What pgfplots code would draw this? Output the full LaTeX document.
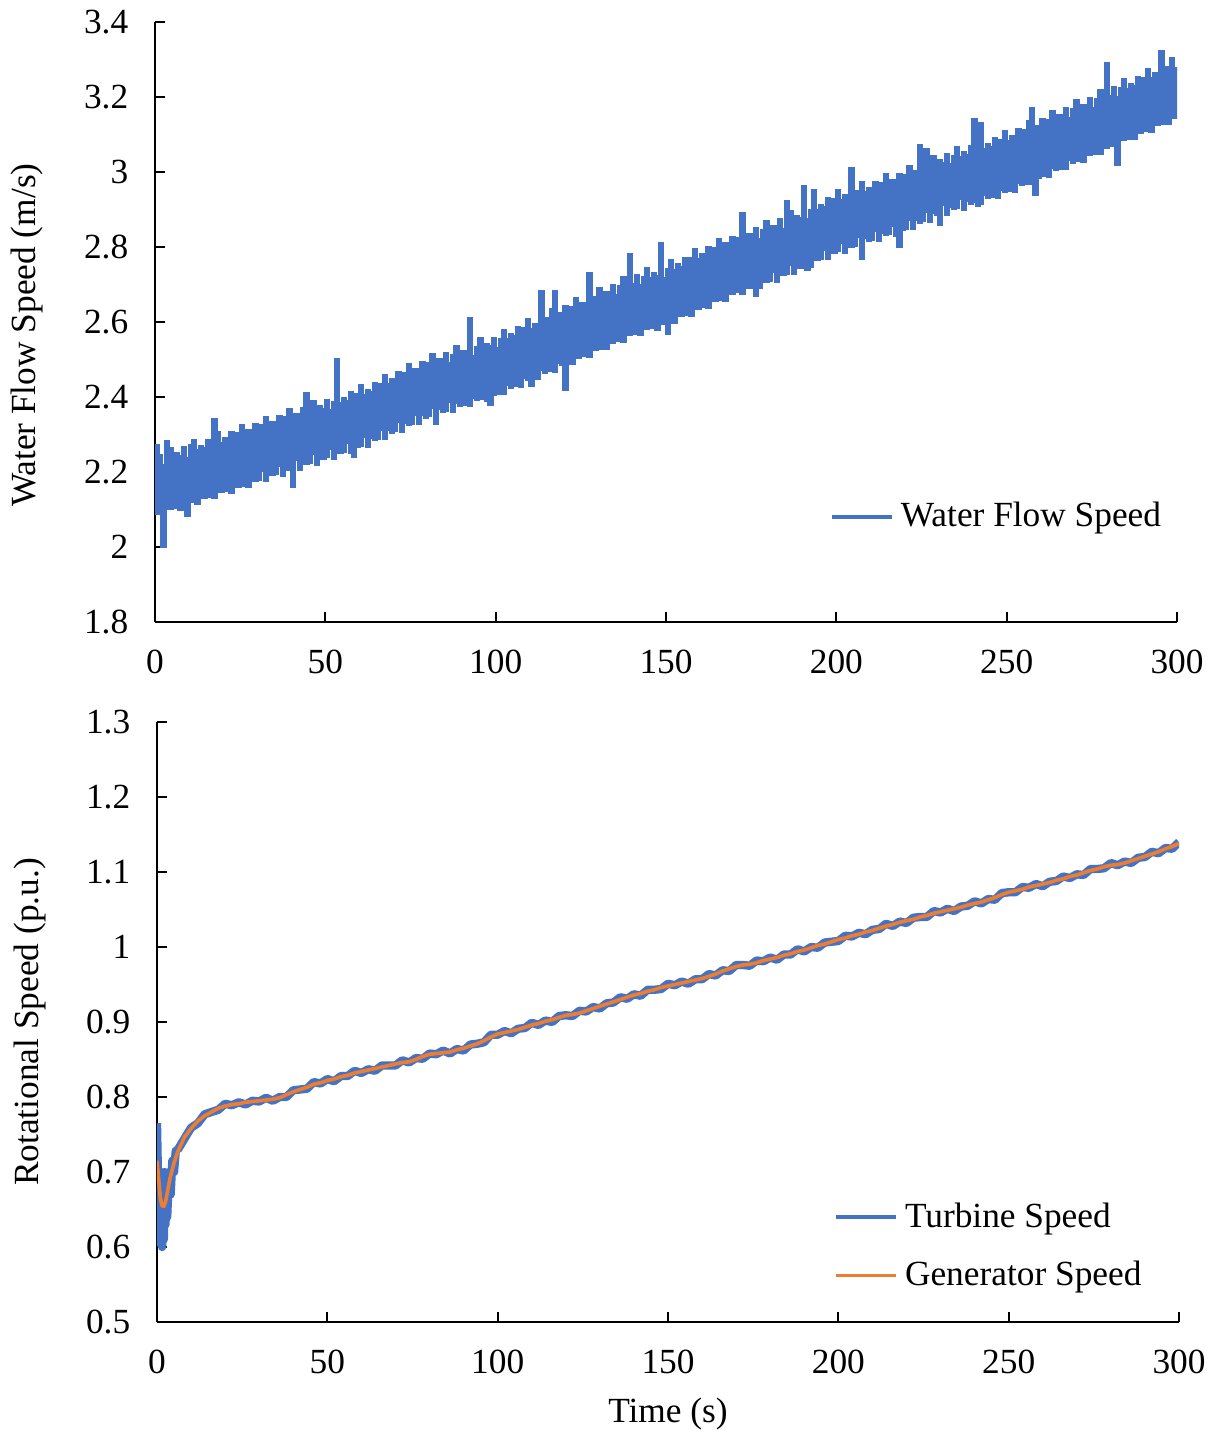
\documentclass[border=0pt]{standalone}
\usepackage{fontspec}
\setmainfont{Liberation Serif}
\usepackage{pgfplots}
\usepackage{pgfplotstable}
\pgfplotsset{compat=1.18}
\usepgfplotslibrary{fillbetween}
\definecolor{xlblue}{HTML}{4472C4}
\definecolor{xlorange}{HTML}{ED7D31}
\newcommand\fs{\fontsize{10.6}{12.7}\selectfont}

% water flow speed: lower and upper edge of the noisy trace, per second
\pgfplotstableread{
x lo hi
0 2.090 2.27
1 2.113 2.243
2 2.00 2.216
3 2.109 2.28
4 2.102 2.262
5 2.105 2.235
6 2.128 2.248
7 2.101 2.241
8 2.124 2.264
9 2.085 2.237
10 2.12 2.27
11 2.143 2.283
12 2.116 2.256
13 2.139 2.269
14 2.132 2.262
15 2.135 2.285
16 2.158 2.258
17 2.131 2.34
18 2.154 2.304
19 2.147 2.277
20 2.15 2.29
21 2.173 2.283
22 2.146 2.306
23 2.169 2.279
24 2.162 2.302
25 2.165 2.325
26 2.188 2.298
27 2.161 2.311
28 2.184 2.304
29 2.177 2.327
30 2.18 2.30
31 2.203 2.323
32 2.176 2.346
33 2.199 2.319
34 2.192 2.332
35 2.195 2.325
36 2.218 2.348
37 2.191 2.321
38 2.214 2.344
39 2.207 2.367
40 2.16 2.34
41 2.233 2.353
42 2.206 2.346
43 2.229 2.369
44 2.222 2.41
45 2.225 2.365
46 2.248 2.388
47 2.221 2.361
48 2.244 2.374
49 2.237 2.367
50 2.24 2.39
51 2.263 2.363
52 2.236 2.386
53 2.259 2.50
54 2.252 2.382
55 2.255 2.395
56 2.278 2.388
57 2.251 2.411
58 2.24 2.384
59 2.267 2.407
60 2.27 2.43
61 2.294 2.404
62 2.268 2.418
63 2.292 2.412
64 2.286 2.436
65 2.29 2.41
66 2.314 2.434
67 2.288 2.458
68 2.312 2.432
69 2.306 2.446
70 2.31 2.44
71 2.334 2.464
72 2.308 2.438
73 2.332 2.462
74 2.326 2.486
75 2.33 2.46
76 2.354 2.474
77 2.328 2.468
78 2.352 2.492
79 2.346 2.466
80 2.35 2.49
81 2.373 2.513
82 2.33 2.486
83 2.369 2.499
84 2.362 2.492
85 2.365 2.515
86 2.388 2.488
87 2.361 2.511
88 2.384 2.534
89 2.377 2.507
90 2.38 2.52
91 2.403 2.513
92 2.376 2.61
93 2.399 2.509
94 2.392 2.532
95 2.395 2.555
96 2.418 2.528
97 2.391 2.541
98 2.38 2.534
99 2.407 2.557
100 2.41 2.53
101 2.434 2.554
102 2.408 2.578
103 2.432 2.552
104 2.426 2.566
105 2.43 2.56
106 2.454 2.584
107 2.428 2.558
108 2.452 2.582
109 2.446 2.606
110 2.43 2.58
111 2.474 2.594
112 2.448 2.588
113 2.472 2.68
114 2.466 2.586
115 2.47 2.61
116 2.494 2.634
117 2.468 2.68
118 2.492 2.622
119 2.486 2.616
120 2.42 2.64
121 2.514 2.614
122 2.488 2.638
123 2.512 2.662
124 2.506 2.636
125 2.51 2.65
126 2.534 2.644
127 2.508 2.73
128 2.532 2.642
129 2.526 2.666
130 2.53 2.69
131 2.554 2.664
132 2.528 2.678
133 2.552 2.672
134 2.546 2.696
135 2.55 2.67
136 2.574 2.694
137 2.548 2.718
138 2.572 2.692
139 2.566 2.78
140 2.57 2.70
141 2.593 2.723
142 2.566 2.696
143 2.589 2.719
144 2.582 2.742
145 2.585 2.715
146 2.608 2.728
147 2.581 2.721
148 2.604 2.81
149 2.597 2.717
150 2.57 2.74
151 2.624 2.764
152 2.598 2.738
153 2.622 2.752
154 2.616 2.746
155 2.62 2.77
156 2.644 2.744
157 2.618 2.768
158 2.642 2.792
159 2.636 2.766
160 2.64 2.78
161 2.664 2.774
162 2.638 2.798
163 2.662 2.772
164 2.656 2.796
165 2.66 2.82
166 2.684 2.794
167 2.658 2.808
168 2.682 2.802
169 2.676 2.826
170 2.68 2.80
171 2.703 2.823
172 2.676 2.89
173 2.699 2.819
174 2.692 2.832
175 2.695 2.825
176 2.67 2.848
177 2.691 2.821
178 2.714 2.844
179 2.707 2.867
180 2.71 2.84
181 2.734 2.854
182 2.708 2.848
183 2.732 2.872
184 2.726 2.846
185 2.73 2.92
186 2.754 2.894
187 2.728 2.868
188 2.752 2.882
189 2.746 2.876
190 2.75 2.96
191 2.74 2.874
192 2.748 2.898
193 2.772 2.95
194 2.766 2.896
195 2.77 2.91
196 2.794 2.904
197 2.768 2.928
198 2.792 2.902
199 2.786 2.926
200 2.79 2.95
201 2.813 2.923
202 2.786 2.936
203 2.809 2.929
204 2.802 3.01
205 2.805 2.925
206 2.828 2.948
207 2.77 2.971
208 2.824 2.944
209 2.817 2.957
210 2.82 2.95
211 2.843 2.973
212 2.816 2.946
213 2.839 2.969
214 2.832 2.992
215 2.835 2.965
216 2.858 2.978
217 2.831 2.971
218 2.80 2.994
219 2.847 2.967
220 2.85 2.99
221 2.874 3.014
222 2.848 2.988
223 2.872 3.002
224 2.866 3.07
225 2.87 3.02
226 2.894 3.06
227 2.868 3.018
228 2.892 3.042
229 2.886 3.016
230 2.86 3.03
231 2.913 3.023
232 2.886 3.046
233 2.909 3.019
234 2.902 3.042
235 2.905 3.065
236 2.928 3.038
237 2.901 3.051
238 2.924 3.044
239 2.917 3.067
240 2.92 3.14
241 2.91 3.063
242 2.916 3.13
243 2.939 3.059
244 2.932 3.072
245 2.935 3.065
246 2.958 3.088
247 2.931 3.061
248 2.954 3.084
249 2.947 3.107
250 2.95 3.08
251 2.974 3.094
252 2.948 3.088
253 2.972 3.112
254 2.966 3.086
255 2.97 3.11
256 2.994 3.134
257 2.968 3.17
258 2.94 3.122
259 2.986 3.116
260 2.99 3.14
261 3.014 3.114
262 2.988 3.138
263 3.012 3.162
264 3.006 3.136
265 3.01 3.15
266 3.034 3.144
267 3.008 3.168
268 3.032 3.142
269 3.026 3.166
270 3.03 3.19
271 3.054 3.164
272 3.028 3.178
273 3.052 3.172
274 3.046 3.196
275 3.05 3.17
276 3.074 3.194
277 3.048 3.218
278 3.072 3.192
279 3.066 3.29
280 3.07 3.20
281 3.094 3.224
282 3.02 3.198
283 3.092 3.222
284 3.086 3.246
285 3.09 3.22
286 3.114 3.234
287 3.088 3.228
288 3.112 3.252
289 3.106 3.226
290 3.11 3.25
291 3.134 3.274
292 3.108 3.248
293 3.132 3.262
294 3.126 3.256
295 3.13 3.32
296 3.154 3.254
297 3.128 3.278
298 3.152 3.302
299 3.146 3.276
300 3.15 3.27
}\water

\pgfplotstableread{
x g t
6 0.726 0.729
8 0.746 0.744
10 0.758 0.759
12 0.768 0.765
14 0.775 0.777
16 0.780 0.780
18 0.785 0.783
20 0.788 0.791
22 0.790 0.789
24 0.791 0.793
26 0.793 0.790
28 0.794 0.795
30 0.795 0.794
32 0.796 0.799
34 0.797 0.795
36 0.799 0.800
38 0.803 0.800
40 0.807 0.809
42 0.810 0.810
44 0.813 0.811
46 0.817 0.820
48 0.819 0.818
50 0.822 0.824
52 0.824 0.821
54 0.827 0.828
56 0.829 0.828
58 0.832 0.835
60 0.834 0.832
62 0.836 0.837
64 0.838 0.835
66 0.840 0.842
68 0.842 0.842
70 0.844 0.842
72 0.846 0.849
74 0.847 0.846
76 0.850 0.852
78 0.854 0.851
80 0.857 0.858
82 0.858 0.857
84 0.859 0.862
86 0.860 0.858
88 0.863 0.864
90 0.865 0.862
92 0.868 0.870
94 0.871 0.871
96 0.875 0.873
98 0.880 0.883
100 0.884 0.883
102 0.886 0.888
104 0.888 0.885
106 0.890 0.891
108 0.893 0.892
110 0.896 0.899
112 0.898 0.896
114 0.901 0.902
116 0.903 0.900
118 0.906 0.908
120 0.909 0.909
122 0.910 0.908
124 0.912 0.915
126 0.915 0.914
128 0.918 0.920
130 0.921 0.918
132 0.924 0.925
134 0.927 0.926
136 0.930 0.933
138 0.933 0.931
140 0.936 0.937
142 0.938 0.935
144 0.941 0.943
146 0.943 0.943
148 0.946 0.944
150 0.948 0.951
152 0.950 0.949
154 0.952 0.954
156 0.954 0.951
158 0.956 0.957
160 0.958 0.957
162 0.961 0.964
164 0.964 0.962
166 0.968 0.969
168 0.971 0.968
170 0.974 0.976
172 0.976 0.976
174 0.977 0.975
176 0.979 0.982
178 0.982 0.981
180 0.984 0.986
182 0.986 0.983
184 0.989 0.990
186 0.991 0.990
188 0.994 0.997
190 0.996 0.994
192 0.999 1.000
194 1.002 0.999
196 1.004 1.006
198 1.007 1.007
200 1.010 1.008
202 1.012 1.015
204 1.015 1.014
206 1.017 1.019
208 1.020 1.017
210 1.022 1.023
212 1.025 1.024
214 1.028 1.031
216 1.030 1.028
218 1.033 1.034
220 1.035 1.032
222 1.037 1.039
224 1.040 1.040
226 1.042 1.040
228 1.045 1.048
230 1.047 1.046
232 1.049 1.051
234 1.051 1.048
236 1.053 1.054
238 1.056 1.055
240 1.058 1.061
242 1.060 1.058
244 1.063 1.064
246 1.066 1.063
248 1.070 1.072
250 1.073 1.073
252 1.075 1.073
254 1.077 1.080
256 1.080 1.079
258 1.082 1.084
260 1.084 1.081
262 1.086 1.087
264 1.089 1.088
266 1.091 1.094
268 1.094 1.092
270 1.096 1.097
272 1.099 1.096
274 1.102 1.104
276 1.104 1.104
278 1.107 1.105
280 1.109 1.112
282 1.110 1.109
284 1.112 1.114
286 1.115 1.112
288 1.118 1.119
290 1.121 1.120
292 1.124 1.127
294 1.127 1.125
296 1.131 1.132
298 1.134 1.131
300 1.138 1.140
}\rot

\pgfplotstableread{
x t
0 0.765
0.25 0.70
0.5 0.62
0.75 0.69
1 0.605
1.25 0.70
1.5 0.60
1.75 0.69
2 0.61
2.25 0.70
2.5 0.63
2.75 0.69
3 0.64
3.5 0.70
4 0.67
4.5 0.715
5 0.70
5.5 0.728
6 0.729
}\turbstart

\pgfplotstableread{
x g
0 0.715
0.3 0.70
0.7 0.68
1 0.665
1.5 0.655
2 0.654
2.5 0.66
3 0.672
3.5 0.684
4 0.695
5 0.712
6 0.726
}\genstart

\pgfplotsset{
  common/.style={
    scale only axis, width=306.6pt, height=180pt,
    xmin=0, xmax=300, xtick={0,50,100,150,200,250,300},
    axis x line=bottom, axis y line=left, axis line style={-, line width=0.7pt},
    tick align=inside, major tick length=3pt,
    tick style={black, line width=0.6pt},
    /pgf/number format/assume math mode=true,
    tick label style={font=\fs},
    x tick label style={yshift=-5pt},
    y tick label style={xshift=-4.5pt},
    label style={font=\fs},
    legend style={draw=none, fill=none, font=\fs, legend cell align=left,
      row sep=4.6pt},
    legend image code/.code={\draw[##1] (0pt,0pt) -- (18pt,0pt);},
  }
}

\begin{document}
\begin{tikzpicture}
\begin{axis}[common,
  ymin=1.8, ymax=3.4, ytick={1.8,2,2.2,2.4,2.6,2.8,3,3.2,3.4},
  ylabel={Water Flow Speed (m/s)},
  ylabel style={at={(axis description cs:-0.125,0.478)}, anchor=center},
  legend style={at={(axis description cs:0.650,0.175)}, anchor=west},
]
\addplot[name path=hi, xlblue, line width=0.9pt, const plot, forget plot] table[x=x,y=hi] {\water};
\addplot[name path=lo, xlblue, line width=0.9pt, const plot, forget plot] table[x=x,y=lo] {\water};
\addplot[xlblue, forget plot] fill between[of=hi and lo];
\addlegendimage{xlblue, line width=1.3pt}
\addlegendentry{Water Flow Speed}
\end{axis}

\begin{axis}[common, at={(0.6pt,-210pt)},
  ymin=0.5, ymax=1.3, ytick={0.5,0.6,0.7,0.8,0.9,1,1.1,1.2,1.3},
  ylabel={Rotational Speed (p.u.)},
  ylabel style={at={(axis description cs:-0.124,0.5)}, anchor=center},
  xlabel={Time (s)},
  xlabel style={at={(axis description cs:0.5,0)}, anchor=center, yshift=-27.5pt},
  legend style={at={(axis description cs:0.652,0.126)}, anchor=west},
]
\addplot[xlblue, line width=2.5pt, line join=round, forget plot] table[x=x,y=t] {\turbstart};
\addplot[xlblue, line width=2.5pt, line join=round, forget plot] table[x=x,y=t] {\rot};
\addplot[xlorange, line width=1.1pt, line join=round, forget plot] table[x=x,y=g] {\genstart};
\addplot[xlorange, line width=1.1pt, line join=round, forget plot] table[x=x,y=g] {\rot};
\addlegendimage{xlblue, line width=1.3pt}
\addlegendentry{Turbine Speed}
\addlegendimage{xlorange, line width=0.7pt}
\addlegendentry{Generator Speed}
\end{axis}
\pgfresetboundingbox
\useasboundingbox (-46.5pt,-243.3pt) rectangle (317.4pt,186.6pt);
\end{tikzpicture}
\end{document}
